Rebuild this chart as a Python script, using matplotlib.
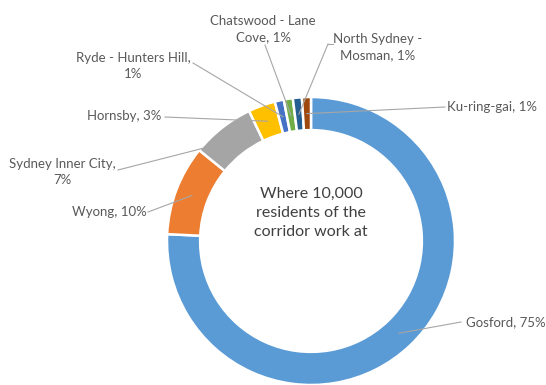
#Donut chart: where residents of the corridor work
import matplotlib
matplotlib.use("Agg")
import matplotlib.pyplot as plt
import numpy as np

places = ['Gosford', 'Wyong', 'Sydney Inner City', 'Hornsby',
          'Ryde - Hunters Hill', 'Chatswood - Lane Cove',
          'North Sydney - Mosman', 'Ku-ring-gai']
shares = [75, 10, 7, 3, 1, 1, 1, 1]
label_texts = ['Gosford, 75%', 'Wyong, 10%', 'Sydney Inner City,\n7%',
               'Hornsby, 3%', 'Ryde - Hunters Hill,\n1%',
               'Chatswood - Lane\nCove, 1%', 'North Sydney -\nMosman, 1%',
               'Ku-ring-gai, 1%']
colors = ['#5B9BD5', '#ED7D31', '#A5A5A5', '#FFC000',
          '#4472C4', '#70AD47', '#255E91', '#9E480E']

plt.rcParams['font.family'] = ['Lato', 'DejaVu Sans']

# pixel layout of the reference (centre and outer radius of the ring)
CX, CY, R = 311, 241, 144
W, H = 546, 385


def px(x, y):
    return ((x - CX) / R, (CY - y) / R)


fig = plt.figure(figsize=(W / 100, H / 100), dpi=100)
ax = fig.add_axes([0, 0, 1, 1])

ring = 0.23
wedges, _ = ax.pie(shares, colors=colors, startangle=90, counterclock=False,
                   radius=1, wedgeprops=dict(width=ring, edgecolor='white',
                                             linewidth=1.8))

# label text anchor (pixels), alignment, end of leader line (pixels)
label_pos = [
    ((466, 322), 'left', (461, 322)),
    ((147, 212), 'right', (148, 212)),
    ((62, 172), 'center', (118, 170)),
    ((161, 116), 'right', (165, 117)),
    ((133, 66), 'center', (193, 63)),
    ((263, 29), 'center', (265, 45)),
    ((378, 47), 'center', (328, 44)),
    ((447, 107), 'left', (445, 107)),
]

for w, text, (tpos, ha, lpos) in zip(wedges, label_texts, label_pos):
    ang = np.deg2rad((w.theta1 + w.theta2) / 2)
    rm = 1 - ring / 2
    start = (rm * np.cos(ang), rm * np.sin(ang))
    end = px(*lpos)
    ax.plot([start[0], end[0]], [start[1], end[1]], color='#A6A6A6',
            lw=0.8, zorder=3)
    ax.text(*px(*tpos), text, ha=ha, va='center', fontsize=9.5,
            color='#595959', linespacing=1.35, multialignment='center')

# little horizontal tick on the North Sydney leader
ax.plot(*zip(px(328, 44), px(333, 44)), color='#A6A6A6', lw=0.8)

ax.text(0, px(0, 213)[1], 'Where 10,000\nresidents of the\ncorridor work at',
        ha='center', va='center', fontsize=11.5, color='#404040',
        linespacing=1.42)

ax.set_xlim(-CX / R, (W - CX) / R)
ax.set_ylim((CY - H) / R, CY / R)
ax.axis('off')

fig.savefig('out.png', dpi=100)
